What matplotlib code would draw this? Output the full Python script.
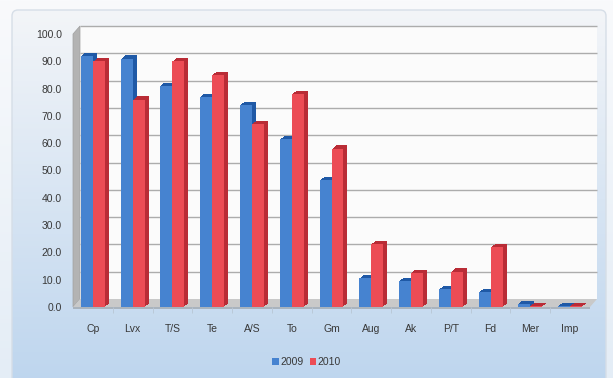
import numpy as np
import matplotlib
matplotlib.use("Agg")
import matplotlib.pyplot as plt
from matplotlib.patches import Polygon, Patch, FancyBboxPatch
from matplotlib.transforms import ScaledTranslation, IdentityTransform

categories = ["Cp", "Lvx", "T/S", "Te", "A/S", "To", "Gm", "Aug", "Ak", "P/T", "Fd", "Mer", "Imp"]
vals_2009 = [92, 91, 81, 77, 74, 61.5, 46.5, 10.5, 9.5, 6.5, 5.5, 1.2, 0.4]
vals_2010 = [90, 76, 90, 85, 67, 78, 58, 23, 12.5, 13, 22, 0.4, 0.4]
series = [("2009", vals_2009, "#4683d0", "#1f59a6"),
          ("2010", vals_2010, "#ec4c55", "#b92c36")]

plt.rcParams["font.family"] = ["Liberation Sans", "DejaVu Sans"]

W, H = 613, 378
fig = plt.figure(figsize=(W / 100, H / 100), dpi=100)


def vgrad(ax, top, bottom, extent, clip=None):
    c0 = np.array(matplotlib.colors.to_rgb(top))
    c1 = np.array(matplotlib.colors.to_rgb(bottom))
    t = np.linspace(0, 1, 256)[:, None]
    img = (c0 * (1 - t) + c1 * t)[:, None, :]
    im = ax.imshow(img, extent=extent, aspect="auto", origin="upper", zorder=0)
    if clip is not None:
        im.set_clip_path(clip)
    return im


# background and chart frame
bg = fig.add_axes([0, 0, 1, 1])
bg.set_xlim(0, W)
bg.set_ylim(0, H)
bg.axis("off")
vgrad(bg, "#f9fafc", "#e4edf6", (0, W, 0, H))
frame = FancyBboxPatch((12, -10), 594, H, boxstyle="round,pad=0,rounding_size=6",
                       facecolor="none", edgecolor="#d6dee7", lw=1.0, zorder=2)
bg.add_patch(frame)
vgrad(bg, "#f3f5f8", "#bdd5ee", (12, 606, -10, H - 10), clip=frame)

# plot area (front plane of the 3D box)
x0, x1, y0, y1 = 73, 590, 307, 34
ax = fig.add_axes([x0 / W, (H - y0) / H, (x1 - x0) / W, (y0 - y1) / H])
ax.set_facecolor("none")
ax.set_xlim(-0.5, len(categories) - 0.5)
ax.set_ylim(0, 100)
for s in ax.spines.values():
    s.set_visible(False)

dx, dy = 7, 8  # depth of the box in pixels
back = ax.transData + ScaledTranslation(dx / 100, dy / 100, fig.dpi_scale_trans)


def px(x, y):
    # image pixel (top-left origin) -> display coords
    return (x, H - y)


ident = IdentityTransform()
# back wall
ax.add_patch(Polygon([px(x0 + dx, y0 - dy), px(x1 + dx, y0 - dy), px(x1 + dx, y1 - dy), px(x0 + dx, y1 - dy)],
                     closed=True, transform=ident, facecolor="#fbfbfb", edgecolor="none", zorder=0.5, clip_on=False))
# left wall
ax.add_patch(Polygon([px(x0, y0), px(x0, y1), px(x0 + dx, y1 - dy), px(x0 + dx, y0 - dy)],
                     closed=True, transform=ident, facecolor="#b3b3b3", edgecolor="#a0a0a0", lw=0.5,
                     zorder=0.6, clip_on=False))
# floor
ax.add_patch(Polygon([px(x0, y0), px(x1, y0), px(x1 + dx, y0 - dy), px(x0 + dx, y0 - dy)],
                     closed=True, transform=ident, facecolor="#c9c9c9", edgecolor="none", zorder=0.6, clip_on=False))
ax.add_patch(Polygon([px(x0, y0), px(x1, y0), px(x1, y0 + 2), px(x0, y0 + 2)],
                     closed=True, transform=ident, facecolor="#a9b3bd", edgecolor="none", zorder=0.6, clip_on=False))

# gridlines on the back wall
yt = np.arange(10, 101, 10)
ax.hlines(yt, -0.5, len(categories) - 0.5, colors="#acacac", lw=1.0, transform=back, zorder=1, clip_on=False)

x = np.arange(len(categories))
bw = 0.3
offsets = [-bw / 2, bw / 2]

# extruded sides/tops first, then front faces
for (name, vals, face, dark), off in zip(series, offsets):
    for k in range(1, 5):
        tr = ax.transData + ScaledTranslation(k / 100, k * 0.8 / 100, fig.dpi_scale_trans)
        ax.bar(x + off, vals, bw, color=dark, transform=tr, zorder=2, clip_on=False)
for (name, vals, face, dark), off in zip(series, offsets):
    ax.bar(x + off, vals, bw, color=face, zorder=3, clip_on=False, label=name)

ax.set_yticks(np.arange(0, 101, 10))
ax.set_yticklabels([f"{v:.1f}" for v in np.arange(0, 101, 10)])
ax.set_xticks(x)
ax.set_xticklabels(categories)
ax.tick_params(axis="both", length=0, labelsize=7.5, labelcolor="#383838")
ax.tick_params(axis="y", pad=8)
ax.tick_params(axis="x", pad=12)
ax.set_xticks(x[:-1] + 0.5, minor=True)
ax.tick_params(axis="x", which="minor", length=4, color="#b8c6d4", direction="out")

handles = [Patch(facecolor=c, label=n) for n, _, c, _ in series]
fig.legend(handles=handles, loc="center", bbox_to_anchor=(0.5, (H - 362) / H), ncol=2, frameon=False,
           fontsize=7.5, handlelength=0.6, handleheight=0.6, handletextpad=0.15, columnspacing=0.6,
           labelcolor="#383838")

fig.savefig("out.png", dpi=100)
